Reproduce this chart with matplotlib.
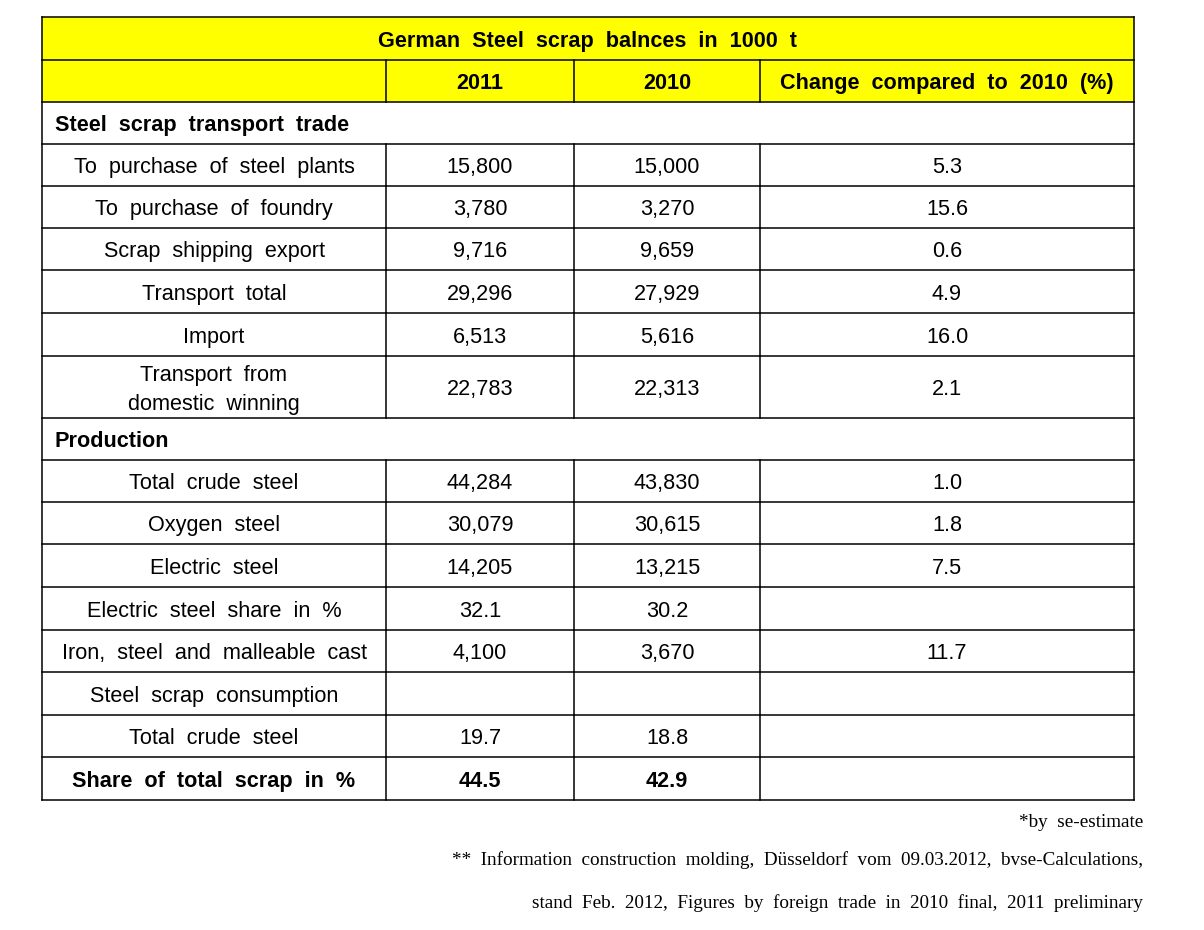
import matplotlib
matplotlib.use("Agg")
import matplotlib.pyplot as plt
from matplotlib.patches import Rectangle

title = "German Steel scrap balnces in 1000 t"
col_headers = ["", "2011", "2010", "Change compared to 2010 (%)"]

row_labels = ["Steel scrap transport trade",
              "To purchase of steel plants", "To purchase of foundry",
              "Scrap shipping export", "Transport total", "Import",
              "Transport from\ndomestic winning",
              "Production",
              "Total crude steel", "Oxygen steel", "Electric steel",
              "Electric steel share in %", "Iron, steel and malleable cast",
              "Steel scrap consumption", "Total crude steel",
              "Share of total scrap in %"]
vals_2011 = ["", "15,800", "3,780", "9,716", "29,296", "6,513", "22,783",
             "", "44,284", "30,079", "14,205", "32.1", "4,100", "", "19.7", "44.5"]
vals_2010 = ["", "15,000", "3,270", "9,659", "27,929", "5,616", "22,313",
             "", "43,830", "30,615", "13,215", "30.2", "3,670", "", "18.8", "42.9"]
change_pct = ["", "5.3", "15.6", "0.6", "4.9", "16.0", "2.1",
              "", "1.0", "1.8", "7.5", "", "11.7", "", "", ""]
section_rows = ["Steel scrap transport trade", "Production"]
bold_rows = ["Share of total scrap in %"]

footnotes = ["*by se-estimate",
             "** Information construction molding, Düsseldorf vom 09.03.2012, bvse-Calculations,",
             "stand Feb. 2012, Figures by foreign trade in 2010 final, 2011 preliminary"]

# layout (pixels)
W, H = 1204, 930
col_x = [42, 386, 574, 760, 1134]
title_top, title_h, header_h = 17, 43, 42
row_heights = [42, 42, 42, 42, 43, 43, 62, 42, 42, 42, 43, 43, 42, 43, 42, 43]
YELLOW = "#FFFF00"
LW = 1.1
FS = 15.6
DY = 2.5


def sp(s):
    return s.replace(" ", "  ")


fig = plt.figure(figsize=(W / 100, H / 100), dpi=100)
ax = fig.add_axes([0, 0, 1, 1])
ax.set_xlim(0, W)
ax.set_ylim(H, 0)
ax.axis("off")

font = "Liberation Sans"
L, R = col_x[0], col_x[-1]

# title row
y0 = title_top
ax.add_patch(Rectangle((L, y0), R - L, title_h + header_h, facecolor=YELLOW, edgecolor="none"))
ax.text((L + R) / 2, y0 + title_h / 2 + DY, sp(title), ha="center", va="center",
        fontsize=FS, fontweight="bold", family=font)
y1 = y0 + title_h
ax.plot([L, R], [y1, y1], color="black", lw=LW)
for j in range(1, 4):
    ax.text((col_x[j] + col_x[j + 1]) / 2, y1 + header_h / 2 + DY, sp(col_headers[j]),
            ha="center", va="center", fontsize=FS, fontweight="bold", family=font)
y2 = y1 + header_h
ax.plot([L, R], [y2, y2], color="black", lw=LW)

# body
y = y2
col_vlines = []
for i, lab in enumerate(row_labels):
    h = row_heights[i]
    cy = y + h / 2 + DY
    if lab in section_rows:
        ax.text(L + 13, cy, sp(lab), ha="left", va="center", fontsize=FS,
                fontweight="bold", family=font)
    else:
        wt = "bold" if lab in bold_rows else "normal"
        ax.text((col_x[0] + col_x[1]) / 2, cy, sp(lab), ha="center", va="center",
                fontsize=FS, fontweight=wt, family=font, linespacing=1.5)
        for j, v in zip(range(1, 4), (vals_2011[i], vals_2010[i], change_pct[i])):
            ax.text((col_x[j] + col_x[j + 1]) / 2, cy, v, ha="center", va="center",
                    fontsize=FS, fontweight=wt, family=font)
        col_vlines.append((y, y + h))
    y += h
    ax.plot([L, R], [y, y], color="black", lw=LW)

# vertical lines
ax.plot([L, L], [title_top, y], color="black", lw=LW)
ax.plot([R, R], [title_top, y], color="black", lw=LW)
ax.plot([L, R], [title_top, title_top], color="black", lw=LW)
for j in range(1, 4):
    ax.plot([col_x[j], col_x[j]], [y1, y2], color="black", lw=LW)
    for (a, b) in col_vlines:
        ax.plot([col_x[j], col_x[j]], [a, b], color="black", lw=LW)

# footnotes
fy = [822, 860, 903]
for t, yy in zip(footnotes, fy):
    ax.text(1143, yy, sp(t), ha="right", va="center", fontsize=13.8,
            family="Liberation Serif")

fig.savefig("out.png", dpi=100)
